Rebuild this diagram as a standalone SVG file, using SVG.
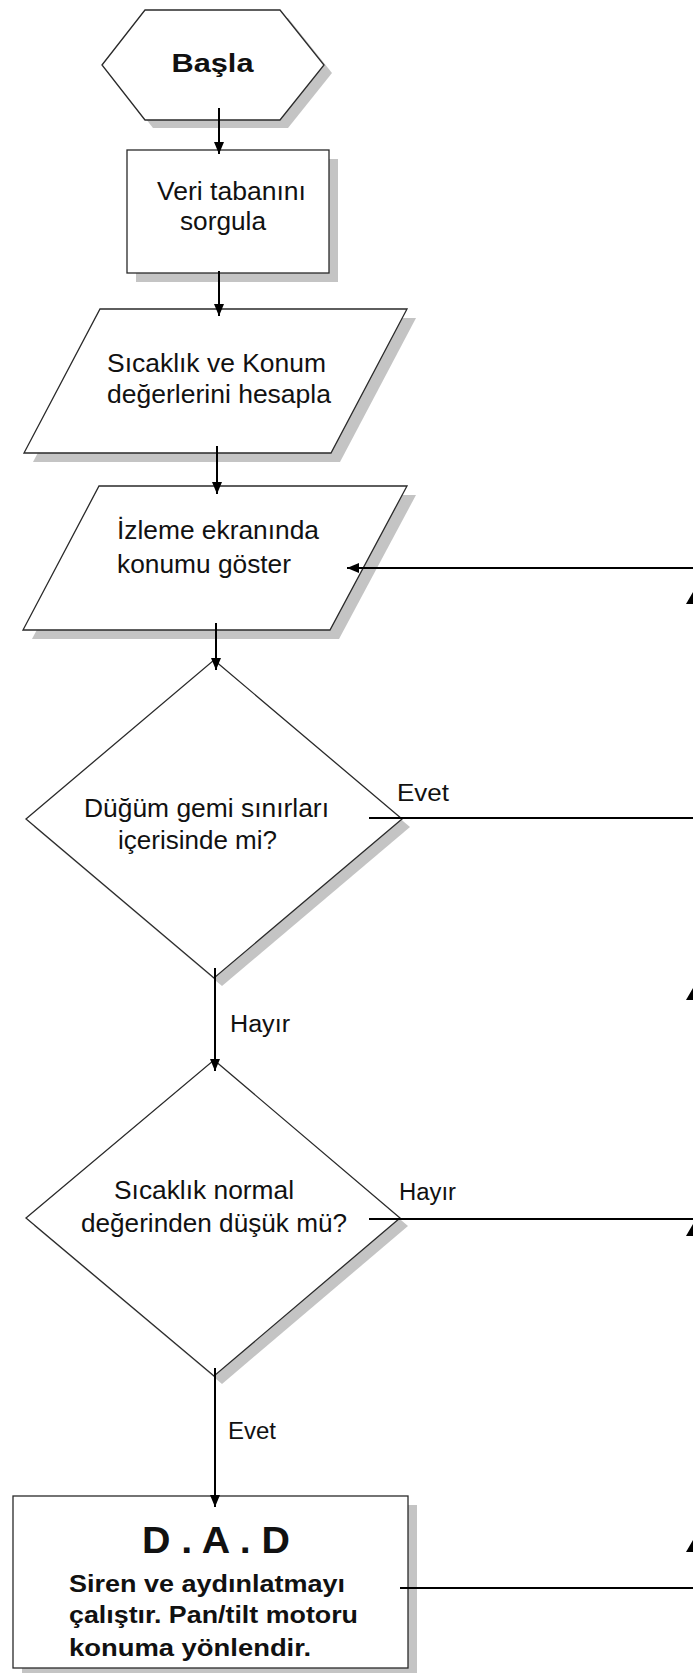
<svg xmlns="http://www.w3.org/2000/svg" width="693" height="1673" viewBox="0 0 693 1673">
<style>
.shape{fill:#ffffff;stroke:#2a2a2a;stroke-width:1.3}
.shadow{fill:#c4c4c4;stroke:none}
.conn{stroke:#000;stroke-width:2;fill:none}
.t{font-family:"Liberation Sans",Arial,sans-serif;font-size:25px;fill:#111}
.b{font-family:"Liberation Sans",Arial,sans-serif;font-weight:bold;fill:#111}
.lbl{font-family:"Liberation Sans",Arial,sans-serif;font-size:23px;fill:#111}
</style>
<defs>
<marker id="ah" markerUnits="userSpaceOnUse" markerWidth="13" markerHeight="11" refX="12" refY="5" orient="auto">
<path d="M0,0 L12,5 L0,10 z" fill="#000"/>
</marker>
</defs>
<rect x="0" y="0" width="693" height="1673" fill="#ffffff"/>

<g id="start">
<polygon class="shadow" points="110,73 153,18 288,18 332,73 288,128 153,128"/>
<polygon class="shape" points="102,65 145,10 280,10 324,65 280,120 145,120"/>
<text class="b" x="212.5" y="72" font-size="25" text-anchor="middle" textLength="82" lengthAdjust="spacingAndGlyphs">Başla</text>
</g>

<g id="query">
<rect class="shadow" x="136" y="159" width="202" height="123"/>
<rect class="shape" x="127" y="150" width="202" height="123"/>
<text class="t" x="157" y="200" textLength="149" lengthAdjust="spacingAndGlyphs">Veri tabanını</text>
<text class="t" x="180" y="230" textLength="86" lengthAdjust="spacingAndGlyphs">sorgula</text>
</g>

<g id="compute">
<polygon class="shadow" points="109,318 416,318 340,462 33,462"/>
<polygon class="shape" points="100,309 407,309 331,453 24,453"/>
<text class="t" x="107" y="372" textLength="219" lengthAdjust="spacingAndGlyphs">Sıcaklık ve Konum</text>
<text class="t" x="107" y="403" textLength="224" lengthAdjust="spacingAndGlyphs">değerlerini hesapla</text>
</g>

<g id="display">
<polygon class="shadow" points="108,495 416,495 339,639 32,639"/>
<polygon class="shape" points="99,486 407,486 330,630 23,630"/>
<text class="t" x="117" y="539" textLength="202" lengthAdjust="spacingAndGlyphs">İzleme ekranında</text>
<text class="t" x="117" y="573" textLength="174" lengthAdjust="spacingAndGlyphs">konumu göster</text>
</g>

<g id="decision1">
<polygon class="shadow" points="222,668 410,827 222,986 34,827"/>
<polygon class="shape" points="214,660 402,819 214,978 26,819"/>
<text class="t" x="84" y="817" textLength="245" lengthAdjust="spacingAndGlyphs">Düğüm gemi sınırları</text>
<text class="t" x="118" y="849" textLength="159" lengthAdjust="spacingAndGlyphs">içerisinde mi?</text>
</g>

<g id="decision2">
<polygon class="shadow" points="222,1068 408,1226 222,1384 34,1226"/>
<polygon class="shape" points="214,1060 400,1218 214,1376 26,1218"/>
<text class="t" x="114" y="1199" textLength="180" lengthAdjust="spacingAndGlyphs">Sıcaklık normal</text>
<text class="t" x="81" y="1232" textLength="266" lengthAdjust="spacingAndGlyphs">değerinden düşük mü?</text>
</g>

<g id="dad">
<rect class="shadow" x="22" y="1505" width="395" height="172"/>
<rect class="shape" x="13" y="1496" width="395" height="172"/>
<text class="b" x="142" y="1553" font-size="36" textLength="148" lengthAdjust="spacingAndGlyphs">D . A . D</text>
<text class="b" x="69" y="1592" font-size="24" textLength="276" lengthAdjust="spacingAndGlyphs">Siren ve aydınlatmayı</text>
<text class="b" x="69" y="1623" font-size="24" textLength="289" lengthAdjust="spacingAndGlyphs">çalıştır. Pan/tilt motoru</text>
<text class="b" x="69" y="1656" font-size="24" textLength="242" lengthAdjust="spacingAndGlyphs">konuma yönlendir.</text>
</g>

<g id="connectors">
<line class="conn" x1="219" y1="108" x2="219" y2="154" marker-end="url(#ah)"/>
<line class="conn" x1="219" y1="271" x2="219" y2="316" marker-end="url(#ah)"/>
<line class="conn" x1="217" y1="446" x2="217" y2="494" marker-end="url(#ah)"/>
<line class="conn" x1="216" y1="623" x2="216" y2="670" marker-end="url(#ah)"/>
<line class="conn" x1="215" y1="968" x2="215" y2="1071" marker-end="url(#ah)"/>
<line class="conn" x1="215" y1="1368" x2="215" y2="1507" marker-end="url(#ah)"/>
<line class="conn" x1="693" y1="568" x2="347" y2="568" marker-end="url(#ah)"/>
<line class="conn" x1="369" y1="818" x2="693" y2="818"/>
<line class="conn" x1="369" y1="1219" x2="693" y2="1219"/>
<line class="conn" x1="400" y1="1588" x2="693" y2="1588"/>
<polygon points="693,592 686,604 693,604" fill="#000"/>
<polygon points="693,988 686,1000 693,1000" fill="#000"/>
<polygon points="693,1224 686,1236 693,1236" fill="#000"/>
<polygon points="693,1540 686,1552 693,1552" fill="#000"/>
<text class="lbl" x="397" y="801" textLength="52" lengthAdjust="spacingAndGlyphs">Evet</text>
<text class="lbl" x="230" y="1032" textLength="60" lengthAdjust="spacingAndGlyphs">Hayır</text>
<text class="lbl" x="399" y="1200" font-size="21" textLength="57" lengthAdjust="spacingAndGlyphs">Hayır</text>
<text class="lbl" x="228" y="1439" textLength="48" lengthAdjust="spacingAndGlyphs">Evet</text>
</g>
</svg>
